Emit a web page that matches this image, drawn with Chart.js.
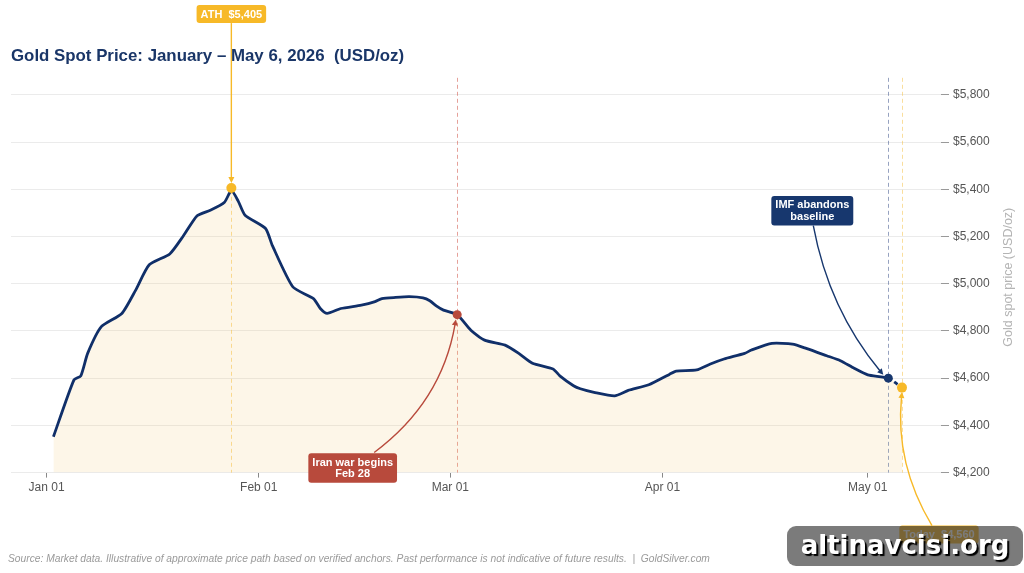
<!DOCTYPE html>
<html><head><meta charset="utf-8">
<script src="https://cdn.jsdelivr.net/npm/chart.js@4.4.1/dist/chart.umd.min.js"></script>
<style>
html,body{margin:0;padding:0;background:#fff;}
#wrap{position:relative;width:1024px;height:573px;overflow:hidden;}
canvas{display:block;}
#wm{position:absolute;left:787px;top:526px;width:236px;height:40px;border-radius:9px;background:rgba(60,60,60,0.68);color:#fff;font:bold 26px 'DejaVu Sans',sans-serif;line-height:38px;text-align:center;text-shadow:2px 2px 1px #000;}
</style></head><body>
<div id="wrap"><canvas id="c" width="1024" height="573"></canvas><div id="wm">altinavcisi.org</div></div>
<script>
const titleText = 'Gold Spot Price: January \u2013 May 6, 2026  (USD/oz)';
const yAxisTitle = 'Gold spot price (USD/oz)';
const footerText = 'Source: Market data. Illustrative of approximate price path based on verified anchors. Past performance is not indicative of future results.  |  GoldSilver.com';

// day offsets from Jan 01, 2026
const days = [1, 4, 5, 6, 8, 11, 13, 15, 18, 20, 22, 24, 26, 27, 28, 29, 32, 33, 36, 39, 40, 41, 43, 46, 48, 49, 51, 53, 55, 56, 57, 58, 60, 62, 64, 67, 69, 71, 74, 75, 77, 78, 80, 83, 85, 88, 91, 92, 95, 97, 99, 102, 103, 106, 109, 111, 114, 116, 118, 120, 123, 125];
const prices = [4352, 4593, 4610, 4705, 4818, 4874, 4972, 5080, 5126, 5203, 5288, 5312, 5345, 5395, 5350, 5290, 5234, 5161, 4986, 4937, 4895, 4874, 4895, 4909, 4924, 4937, 4942, 4945, 4940, 4928, 4905, 4888, 4869, 4803, 4761, 4740, 4705, 4663, 4639, 4610, 4568, 4555, 4540, 4525, 4548, 4572, 4616, 4630, 4635, 4660, 4681, 4705, 4719, 4747, 4744, 4726, 4695, 4674, 4642, 4614, 4600, 4560];

const xTickDays = [0, 31, 59, 90, 120];
const xTickLabels = ['Jan 01', 'Feb 01', 'Mar 01', 'Apr 01', 'May 01'];
const yTickValues = [4200, 4400, 4600, 4800, 5000, 5200, 5400, 5600, 5800];

const eventDays = [27, 60, 123, 125];
const eventPrices = [5405, 4869, 4600, 4560];
const eventLabels = [['ATH  $5,405'], ['Iran war begins', 'Feb 28'], ['IMF abandons', 'baseline'], ['Today  $4,560']];

// styling / layout constants for annotations
const eventColors = ['#f7b928', '#b84a3c', '#17376e', '#f7b928'];
const vlineColors = ['rgba(246,190,60,0.55)', 'rgba(215,110,100,0.65)', 'rgba(80,100,150,0.6)', 'rgba(246,190,60,0.5)'];
const pointRadii = [5, 4.5, 4.5, 5];
const boxOffsets = [[0, -174], [-104.5, 153.3], [-76, -167.5], [37, 147]];
const startOffsets = [[0, 9], [21.5, -15.5], [1, 15], [-7, -9]];
const endOffsets = [[0, -5], [-1.3, 4.8], [-5, -3.3], [0, 4.5]];
const bends = [0, 0.2, 0.13, -0.165];

const FONT = "'Liberation Sans', Arial, sans-serif";
const imfIndex = days.indexOf(123);

const annot = {
  id: 'annot',
  beforeDatasetsDraw(chart) {
    const {ctx, chartArea: a, scales: {x}} = chart;
    ctx.save();
    ctx.lineWidth = 1;
    ctx.setLineDash([4, 3]);
    eventDays.forEach((d, i) => {
      const px = Math.round(x.getPixelForValue(d)) + 0.5;
      ctx.strokeStyle = vlineColors[i];
      ctx.beginPath(); ctx.moveTo(px, a.top); ctx.lineTo(px, a.bottom); ctx.stroke();
    });
    ctx.restore();
  },
  afterDatasetsDraw(chart) {
    const {ctx, scales: {x, y}} = chart;
    ctx.save();
    eventDays.forEach((d, i) => {
      const px = x.getPixelForValue(d), py = y.getPixelForValue(eventPrices[i]);
      const bx = px + boxOffsets[i][0], by = py + boxOffsets[i][1];
      const x0 = bx + startOffsets[i][0], y0 = by + startOffsets[i][1];
      const x2 = px + endOffsets[i][0], y2 = py + endOffsets[i][1];
      const dx = x2 - x0, dy = y2 - y0;
      const cx = (x0 + x2) / 2 - bends[i] * dy, cy = (y0 + y2) / 2 + bends[i] * dx;
      ctx.strokeStyle = eventColors[i];
      ctx.fillStyle = eventColors[i];
      ctx.lineWidth = 1.4;
      ctx.setLineDash([]);
      let tx = x2 - cx, ty = y2 - cy;
      const tl = Math.hypot(tx, ty) || 1; tx /= tl; ty /= tl;
      const L = 6, W = 3;
      const bxp = x2 - tx * L, byp = y2 - ty * L;
      ctx.beginPath();
      ctx.moveTo(x0, y0);
      ctx.quadraticCurveTo(cx, cy, bxp + tx * 1, byp + ty * 1);
      ctx.stroke();
      ctx.beginPath();
      ctx.moveTo(x2, y2);
      ctx.lineTo(bxp - ty * W, byp + tx * W);
      ctx.lineTo(bxp + ty * W, byp - tx * W);
      ctx.closePath();
      ctx.fill();
    });
    ctx.font = 'bold 11px ' + FONT;
    ctx.textAlign = 'center';
    ctx.textBaseline = 'middle';
    eventDays.forEach((d, i) => {
      const px = x.getPixelForValue(d), py = y.getPixelForValue(eventPrices[i]);
      const bx = px + boxOffsets[i][0], by = py + boxOffsets[i][1];
      const lines = eventLabels[i];
      const w = Math.max(...lines.map(t => ctx.measureText(t).width)) + 8;
      const lh = 11.5;
      const h = lines.length * lh + 6.5;
      ctx.fillStyle = eventColors[i];
      ctx.beginPath();
      ctx.roundRect(bx - w / 2, by - h / 2, w, h, 3);
      ctx.fill();
      ctx.fillStyle = '#ffffff';
      lines.forEach((t, k) => {
        ctx.fillText(t, bx, by + (k - (lines.length - 1) / 2) * lh + 0.5);
      });
    });
    ctx.restore();
  },
  afterDraw(chart) {
    const {ctx, chartArea: a} = chart;
    ctx.save();
    ctx.font = 'italic 10.25px ' + FONT;
    ctx.fillStyle = '#9a9a9a';
    ctx.textAlign = 'left';
    ctx.textBaseline = 'middle';
    ctx.fillText(footerText, 8, 559);
    ctx.translate(a.right + 67.3, (a.top + a.bottom) / 2 + 2);
    ctx.rotate(-Math.PI / 2);
    ctx.font = '12.5px ' + FONT;
    ctx.fillStyle = '#b4b4b4';
    ctx.textAlign = 'center';
    ctx.fillText(yAxisTitle, 0, 0);
    ctx.restore();
  }
};

new Chart(document.getElementById('c'), {
  type: 'line',
  data: {
    datasets: [
      {
        data: days.map((d, i) => ({x: d, y: prices[i]})),
        borderColor: '#102f69',
        borderWidth: 2.8,
        backgroundColor: 'rgba(245,200,110,0.16)',
        fill: 'start',
        pointRadius: 0,
        tension: 0.2,
        borderJoinStyle: 'round',
        segment: {
          borderDash: ctx => ctx.p0DataIndex >= imfIndex ? [4, 3] : undefined
        },
        order: 2
      },
      {
        data: eventDays.map((d, i) => ({x: d, y: eventPrices[i]})),
        showLine: false,
        pointRadius: pointRadii,
        pointBackgroundColor: eventColors,
        pointBorderWidth: 0,
        pointHoverRadius: pointRadii,
        clip: false,
        order: 1
      }
    ]
  },
  options: {
    responsive: false,
    devicePixelRatio: 1,
    animation: false,
    events: [],
    layout: {padding: {left: 11, right: 0, top: 0, bottom: 75}},
    plugins: {
      legend: {display: false},
      tooltip: {enabled: false},
      title: {
        display: true,
        text: titleText,
        align: 'start',
        color: '#1a3668',
        font: {family: FONT, size: 16.85, weight: 'bold'},
        padding: {top: 45.8, bottom: 11.8}
      }
    },
    scales: {
      x: {
        type: 'linear',
        min: -5.2,
        max: 130.7,
        afterBuildTicks: s => { s.ticks = xTickDays.map(v => ({value: v})); },
        ticks: {
          callback: (v, i) => xTickLabels[i],
          color: '#555',
          font: {family: FONT, size: 12},
          padding: 3,
          maxRotation: 0,
          autoSkip: false
        },
        grid: {display: true, drawOnChartArea: false, drawTicks: true, tickLength: 5, tickColor: '#888'},
        border: {display: false}
      },
      y: {
        position: 'right',
        min: 4200,
        max: 5872,
        afterBuildTicks: s => { s.ticks = yTickValues.map(v => ({value: v})); },
        afterFit: s => { s.width = 83; },
        ticks: {
          callback: v => '$' + v.toLocaleString('en-US'),
          color: '#555',
          font: {family: FONT, size: 12},
          padding: 4
        },
        grid: {color: '#ebebeb', lineWidth: 1, drawTicks: true, tickLength: 8, tickColor: '#999'},
        border: {display: false}
      }
    }
  },
  plugins: [annot]
});
</script>
</body></html>
